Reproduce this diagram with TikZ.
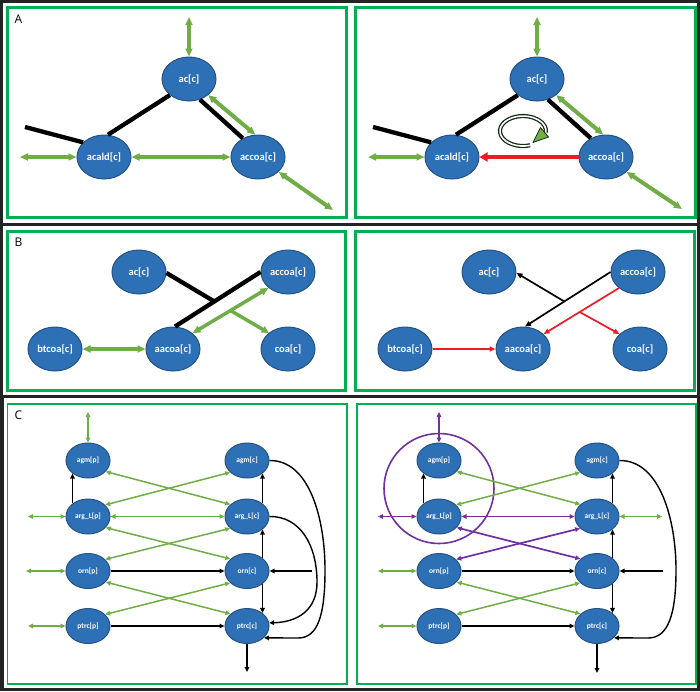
\documentclass[tikz,border=0pt]{standalone}
\usepackage{fontspec}
\newfontfamily\nodefont{Carlito}
\newfontfamily\labfont{Open Sans}
\usetikzlibrary{shapes.geometric,arrows.meta,calc}
\definecolor{nblue}{RGB}{46,112,182}
\definecolor{nedge}{RGB}{37,82,130}
\definecolor{agreen}{RGB}{112,173,71}
\definecolor{fgreen}{RGB}{0,176,80}
\definecolor{dframe}{RGB}{35,35,35}
\definecolor{apurple}{RGB}{112,48,160}
\definecolor{ared}{RGB}{237,28,36}
\definecolor{cycline}{RGB}{25,45,25}
\tikzset{
 bnode/.style={ellipse, fill=nblue, draw=nedge, line width=1pt, inner sep=0pt, text=white,
   font=\nodefont\bfseries\fontsize{10.5}{11}\selectfont, minimum width=54pt, minimum height=44pt},
 cnode/.style={bnode, minimum width=44pt, minimum height=35pt, font=\nodefont\bfseries\fontsize{7.5}{8}\selectfont},
 gthick/.style={draw=agreen, line width=4pt, >={Triangle[length=8pt,width=7pt]}, <->},
 gthickone/.style={draw=agreen, line width=3.5pt, >={Triangle[length=7pt,width=7pt]}, ->},
 bthick/.style={draw=black, line width=4.3pt},
 rthick/.style={draw=ared, line width=4.3pt, >={Triangle[length=8pt,width=9pt]}, ->},
 bthin/.style={draw=black, line width=1.7pt, >={Triangle[length=6pt,width=5pt]}, ->},
 rthin/.style={draw=ared, line width=1.7pt, >={Triangle[length=6pt,width=5pt]}, ->},
 gC/.style={draw=agreen, line width=1.5pt, >={Triangle[length=5pt,width=4.5pt]}, <->},
 pC/.style={draw=apurple, line width=1.7pt, >={Triangle[length=5pt,width=4.5pt]}, <->},
 bC/.style={draw=black, line width=1.4pt, >={Triangle[length=5pt,width=4.5pt]}, ->},
 panel/.style={draw=fgreen, line width=3pt},
 panelC/.style={draw=fgreen, line width=1.6pt},
 outer/.style={draw=dframe, line width=3pt},
 plabel/.style={font=\labfont\fontsize{12}{12}\selectfont, inner sep=0pt}
}
\begin{document}
\begin{tikzpicture}[x=1pt,y=-1pt]
\useasboundingbox (0,0) rectangle (700,691);
% frames
\draw[outer] (1.5,1.5) rectangle (698.5,224.5);
\draw[outer] (1.5,224.5) rectangle (698.5,396.5);
\draw[outer, line width=3.5pt] (1.75,396.5) rectangle (698.25,689.25);
\draw[panel] (7.5,7.5) rectangle (346.5,217);
\draw[panel] (355.5,7.5) rectangle (695,217);
\draw[panel] (7.5,231.5) rectangle (345.5,390.5);
\draw[panel] (355.5,231.5) rectangle (694.5,390.5);
\draw[panelC] (7.5,404) rectangle (347,684);
\draw[panelC] (357,404) rectangle (696,684);
\node[plabel] (labA) at (18.5,19.5) {A};
\node[plabel] (labB) at (18.5,242.5) {B};
\node[plabel] (labC) at (18.5,415) {C};

% ---------- A left
\node[bnode] (acA) at (189,79) {ac[c]};
\node[bnode] (acldA) at (104,157) {acald[c]};
\node[bnode] (accoaA) at (258,157) {accoa[c]};
\coordinate (a1top) at (189,17);
\coordinate (a1in) at (25,127);
\coordinate (a1left) at (20,157);
\coordinate (a1out) at (333,210);
\draw[gthick] (a1top) -- (acA.north);
\draw[bthick] (a1in) -- (acldA.145);
\draw[bthick] (acldA.80) -- (acA.-140);
\draw[bthick] (accoaA.129) -- (acA.-62);
\draw[gthick] (acA.-40) -- (accoaA.97);
\draw[gthick] (a1left) -- (acldA.west);
\draw[gthick] (acldA.east) -- (accoaA.west);
\draw[gthick] (accoaA.-36) -- (a1out);

% ---------- A right
\node[bnode] (acA2) at (537,79) {ac[c]};
\node[bnode] (acldA2) at (452,157) {acald[c]};
\node[bnode] (accoaA2) at (606,157) {accoa[c]};
\coordinate (a2top) at (537,17);
\coordinate (a2in) at (373,127);
\coordinate (a2left) at (368,157);
\coordinate (a2out) at (682,209);
\draw[gthick] (a2top) -- (acA2.north);
\draw[bthick] (a2in) -- (acldA2.145);
\draw[bthick] (acldA2.80) -- (acA2.-140);
\draw[bthick] (accoaA2.129) -- (acA2.-62);
\draw[gthick] (acA2.-40) -- (accoaA2.97);
\draw[gthick] (a2left) -- (acldA2.west);
\draw[rthick] (accoaA2.west) -- (acldA2.east);
\draw[gthick] (accoaA2.-36) -- (a2out);
% cycle arrow
\coordinate (cyc) at (523,131);
\draw[draw=cycline, line width=1.3pt, double=white, double distance=1.6pt]
  ($(cyc)+(7.1,14.3)$) arc[start angle=72, end angle=366, x radius=23, y radius=15];
\filldraw[fill=agreen, draw=cycline, line width=0.8pt, line join=round]
  (540.5,127.5) -- (548.5,137) -- (533,142.5) -- cycle;

% ---------- B left
\node[bnode] (acB) at (139,272) {ac[c]};
\node[bnode] (accoaB) at (288,272) {accoa[c]};
\node[bnode] (btB) at (55,349) {btcoa[c]};
\node[bnode] (aacoaB) at (173,349) {aacoa[c]};
\node[bnode] (coaB) at (288,349) {coa[c]};
\draw[bthick] (aacoaB.85) -- (accoaB.west);
\coordinate (jB1) at ($(aacoaB.85)!0.46!(accoaB.west)$);
\draw[bthick] (acB.-2) -- (jB1);
\draw[gthick, line width=3.5pt] (accoaB.-141) -- (aacoaB.39);
\coordinate (jB2) at ($(accoaB.-141)!0.5!(aacoaB.39)$);
\draw[gthickone] (jB2) -- (coaB.140);
\draw[gthick, line width=3.5pt] (btB.east) -- (aacoaB.west);

% ---------- B right
\node[bnode] (acB2) at (489,272) {ac[c]};
\node[bnode] (accoaB2) at (638,272) {accoa[c]};
\node[bnode] (btB2) at (405,349) {btcoa[c]};
\node[bnode] (aacoaB2) at (523,349) {aacoa[c]};
\node[bnode] (coaB2) at (640,349) {coa[c]};
\draw[bthin] (accoaB2.west) -- (aacoaB2.85);
\coordinate (jB3) at ($(accoaB2.west)!0.54!(aacoaB2.85)$);
\draw[bthin] (jB3) -- (acB2.-2);
\draw[rthin] (accoaB2.-140) -- (aacoaB2.36);
\coordinate (jB4) at ($(accoaB2.-140)!0.52!(aacoaB2.36)$);
\draw[rthin] (jB4) -- (coaB2.144);
\draw[rthin] (btB2.east) -- (aacoaB2.west);

% ---------- C left
\node[cnode] (agmp1) at (88,460.5) {agm[p]};
\node[cnode] (agmc1) at (247,460.5) {agm[c]};
\node[cnode] (argp1) at (88,516.5) {arg\_L[p]};
\node[cnode] (argc1) at (247,516.5) {arg\_L[c]};
\node[cnode] (ornp1) at (88,571) {orn[p]};
\node[cnode] (ornc1) at (247,571) {orn[c]};
\node[cnode] (ptrp1) at (88,626) {ptrc[p]};
\node[cnode] (ptrc1) at (247,626) {ptrc[c]};
\coordinate (c1top) at (88,412);
\coordinate (c1l2) at (28,516.5);
\coordinate (c1l3) at (26,571);
\coordinate (c1l4) at (28,626);
\coordinate (c1bot) at (247,672);
\coordinate (c1r) at (312,571);
\draw[gC] (c1top) -- (agmp1.north);
\draw[bC] (argp1.140) -- (agmp1.-140);
\draw[gC] (agmp1.-32) -- (argc1.144);
\draw[gC] (agmc1.-145) -- (argp1.34);
\draw[gC] (c1l2) -- (argp1.west);
\draw[gC] (argp1.east) -- (argc1.west);
\draw[gC] (argp1.-32) -- (ornc1.144);
\draw[gC] (argc1.-145) -- (ornp1.34);
\draw[gC] (c1l3) -- (ornp1.west);
\draw[bC] (ornp1.east) -- (ornc1.west);
\draw[gC] (ornp1.-32) -- (ptrc1.144);
\draw[gC] (ornc1.-145) -- (ptrp1.34);
\draw[gC] (c1l4) -- (ptrp1.west);
\draw[bC] (ptrp1.east) -- (ptrc1.west);
\draw[bC] (ptrc1.south) -- (c1bot);
\draw[bC] (argc1.40) -- (agmc1.-40);
\draw[bC] (ornc1.40) -- (argc1.-40);
\draw[bC] (ornc1.-40) -- (ptrc1.40);
\draw[bC] (c1r) -- (ornc1.east);
\draw[bC] (agmc1.east) .. controls (310,460) and (325,520) .. (325,570)
   .. controls (325,615) and (318,638) .. (298,638) -- (ptrc1.-35);
\draw[bC] (argc1.east) .. controls (300,516) and (317,545) .. (317,582)
   .. controls (317,610) and (298,622) .. (ptrc1.8);

% ---------- C right
\node[draw=apurple, line width=1.6pt, circle, minimum size=110pt, inner sep=0pt] (ring) at (439,488.5) {};
\node[cnode] (agmp2) at (439,460.5) {agm[p]};
\node[cnode] (agmc2) at (597,460.5) {agm[c]};
\node[cnode] (argp2) at (439,516.5) {arg\_L[p]};
\node[cnode] (argc2) at (597,516.5) {arg\_L[c]};
\node[cnode] (ornp2) at (439,571) {orn[p]};
\node[cnode] (ornc2) at (597,571) {orn[c]};
\node[cnode] (ptrp2) at (439,626) {ptrc[p]};
\node[cnode] (ptrc2) at (597,626) {ptrc[c]};
\coordinate (c2top) at (439,412);
\coordinate (c2l2) at (378,516.5);
\coordinate (c2r2) at (662,516.5);
\coordinate (c2l3) at (378,571);
\coordinate (c2l4) at (378,626);
\coordinate (c2bot) at (597,673);
\coordinate (c2r) at (663,571);
\draw[pC] (c2top) -- (agmp2.north);
\draw[bC] (argp2.140) -- (agmp2.-140);
\draw[gC] (agmp2.-32) -- (argc2.144);
\draw[gC] (agmc2.-145) -- (argp2.34);
\draw[pC] (c2l2) -- (argp2.west);
\draw[pC] (argp2.east) -- (argc2.west);
\draw[gC] (argc2.east) -- (c2r2);
\draw[pC] (argp2.-32) -- (ornc2.144);
\draw[pC] (argc2.-145) -- (ornp2.34);
\draw[gC] (c2l3) -- (ornp2.west);
\draw[bC] (ornp2.east) -- (ornc2.west);
\draw[gC] (ornp2.-32) -- (ptrc2.144);
\draw[gC] (ornc2.-145) -- (ptrp2.34);
\draw[gC] (c2l4) -- (ptrp2.west);
\draw[bC] (ptrp2.east) -- (ptrc2.west);
\draw[bC] (ptrc2.south) -- (c2bot);
\draw[bC] (argc2.40) -- (agmc2.-40);
\draw[bC] (ornc2.40) -- (argc2.-40);
\draw[bC] (ornc2.-40) -- (ptrc2.40);
\draw[bC] (c2r) -- (ornc2.east);
\draw[bC] (agmc2.east) .. controls (660,460) and (676,520) .. (676,570)
   .. controls (676,615) and (668,638) .. (648,638) -- (ptrc2.-35);
\end{tikzpicture}
\end{document}
